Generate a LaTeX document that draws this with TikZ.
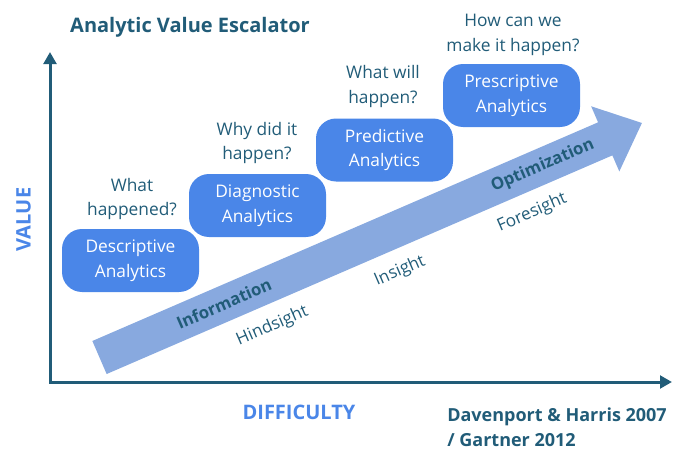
\documentclass[tikz,border=0pt]{standalone}
\usepackage{fontspec}
\setmainfont{Open Sans}
\usetikzlibrary{arrows.meta}
\usepackage{xcolor}
\definecolor{Tl}{HTML}{215C78}
\definecolor{Bx}{HTML}{4A86E8}
\definecolor{Ar}{HTML}{88A9DF}
\tikzset{
  stage/.style = {fill=Bx, text=white, rounded corners=15pt,
                  minimum width=102.75pt, minimum height=47.25pt,
                  align=center, font=\fontsize{13}{18.4}\selectfont, inner sep=2pt},
  quest/.style = {text=Tl, align=center, inner sep=0pt,
                  font=\fontsize{13}{18.4}\selectfont},
  tag/.style   = {text=Tl, inner sep=0pt, font=\fontsize{12.8}{14}\selectfont},
  tagb/.style  = {text=Tl, inner sep=0pt, font=\fontsize{12.6}{14}\selectfont\bfseries},
  axlbl/.style = {text=Bx, inner sep=0pt, font=\fontsize{15}{18}\selectfont\bfseries},
  axis/.style  = {{Triangle[length=9pt, width=9.5pt]}-{Triangle[length=9pt, width=9.5pt]},
                  line width=2.25pt, Tl},
}

\begin{document}
\begin{tikzpicture}[x=0.75pt, y=0.75pt]
\useasboundingbox (0,0) rectangle (687,462);

%%──────────────────────────────────────────────────
%% Title and axes
%%──────────────────────────────────────────────────
\node[text=Tl, inner sep=0pt, font=\fontsize{15}{18}\selectfont\bfseries]
  (title) at (190,435) {Analytic Value Escalator};

\coordinate (orig) at (50,80);
\coordinate (ytip) at (50,410);
\coordinate (xtip) at (672,80);
\draw[axis] (ytip) -- (orig) -- (xtip);

\node[axlbl, rotate=90] (value) at (23.5,242.5) {VALUE};
\node[axlbl]            (diff)  at (299,50)     {DIFFICULTY};

\node[text=Tl, inner sep=0pt, anchor=west, align=left,
      font=\fontsize{13.5}{18.75}\selectfont\bfseries] (src) at (447,34.5)
  {Davenport \& Harris 2007\\/ Gartner 2012};

%%──────────────────────────────────────────────────
%% Escalator arrow
%%──────────────────────────────────────────────────
\begin{scope}[shift={(99.5,104.5)}, rotate=23.38, transform shape]
  \fill[Ar] (0,-18) -- (551,-18) -- (551,-35.5) -- (591,0)
    -- (551,35.5) -- (551,18) -- (0,18) -- cycle;

  \node[tagb] (info)  at (135.6,0)   {Information};
  \node[tagb] (optim) at (483,0)     {Optimization};
  \node[tag]  (hind)  at (171,-40)   {Hindsight};
  \node[tag]  (ins)   at (310,-40)   {Insight};
  \node[tag]  (fore)  at (454.5,-39) {Foresight};
\end{scope}

%%──────────────────────────────────────────────────
%% Stages and questions
%%──────────────────────────────────────────────────
\node[stage] (desc)  at (130.5,201.5) {Descriptive\\Analytics};
\node[stage] (diag)  at (257.5,256.5) {Diagnostic\\Analytics};
\node[stage] (pred)  at (384.5,312)   {Predictive\\Analytics};
\node[stage] (presc) at (511.5,366.5) {Prescriptive\\Analytics};

\node[quest] (qdesc)  at (132,263)   {What\\happened?};
\node[quest] (qdiag)  at (257,319)   {Why did it\\happen?};
\node[quest] (qpred)  at (383,375.5) {What will\\happen?};
\node[quest] (qpresc) at (513,427)   {How can we\\make it happen?};

\end{tikzpicture}
\end{document}
